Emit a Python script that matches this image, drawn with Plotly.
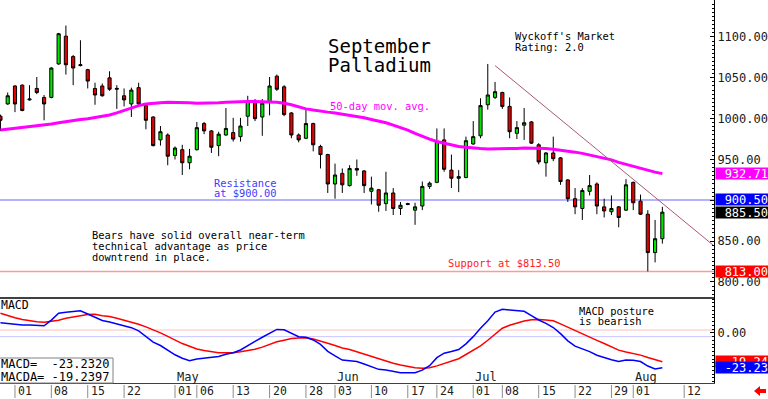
import plotly.graph_objects as go

# ---------------- data ----------------
opens = [1003, 1018, 1040, 1041, 1023, 1037, 1026, 1026, 1067, 1101,
         1076, 1065, 1060, 1037, 1040, 1050, 1036, 1028, 1018, 1038,
         1016, 1002, 974, 980, 955, 962, 946, 962, 994, 985,
         967, 980, 983, 978, 1003, 1021, 1002, 1021, 1052, 1039,
         1007, 980, 976, 994, 966, 956, 920, 933, 918, 939,
         936, 911, 913, 896, 909, 890, 896, 888, 893, 917,
         922, 974, 937, 927, 928, 969, 979, 1017, 1026, 1032,
         1015, 982, 992, 996, 968, 946, 958, 952, 925, 902,
         890, 911, 920, 892, 886, 892, 888, 922, 899, 883,
         836, 853]
highs = [1005, 1032, 1041, 1042, 1041, 1051, 1029, 1063, 1105, 1114,
         1078, 1096, 1061, 1044, 1043, 1058, 1041, 1037, 1038, 1044,
         1017, 1003, 991, 982, 966, 968, 963, 996, 996, 986,
         984, 1013, 1001, 1001, 1028, 1024, 1024, 1051, 1054, 1041,
         1008, 982, 1013, 995, 968, 957, 945, 939, 943, 950,
         937, 929, 914, 935, 915, 898, 897, 897, 923, 923,
         988, 988, 956, 937, 978, 997, 1025, 1067, 1045, 1033,
         1026, 997, 1013, 997, 970, 959, 978, 953, 926, 915,
         915, 931, 922, 902, 906, 893, 926, 923, 907, 888,
         876, 892]
lows = [985, 1017, 1008, 1009, 1022, 1030, 998, 1025, 1066, 1054,
        1041, 1064, 1037, 1017, 1027, 1034, 1012, 1015, 1002, 1015,
        987, 966, 967, 943, 950, 931, 938, 961, 981, 958,
        954, 979, 972, 972, 991, 997, 979, 1004, 1034, 1003,
        976, 971, 975, 960, 939, 909, 902, 909, 917, 930,
        909, 895, 886, 887, 882, 882, 894, 870, 888, 914,
        921, 935, 915, 910, 927, 968, 976, 1011, 1024, 1012,
        976, 975, 974, 969, 944, 929, 948, 919, 898, 883,
        876, 906, 883, 879, 882, 867, 887, 888, 882, 813,
        824, 847]
closes = [998, 1028, 1018, 1010, 1024, 1032, 1018, 1062, 1104, 1066,
          1062, 1066, 1046, 1029, 1028, 1036, 1037, 1023, 1035, 1018,
          998, 967, 984, 954, 964, 946, 954, 989, 985, 965,
          981, 988, 975, 991, 1021, 1000, 1019, 1040, 1036, 1005,
          980, 974, 994, 968, 956, 920, 931, 919, 939, 937,
          918, 915, 894, 909, 890, 894, 895, 892, 917, 921,
          972, 938, 927, 929, 973, 978, 1016, 1029, 1033, 1015,
          984, 989, 995, 970, 947, 958, 951, 923, 902, 892,
          912, 918, 893, 887, 890, 879, 919, 897, 883, 836,
          853, 885.5]
ma50 = [986, 987, 988, 989, 990, 991, 992, 993.5, 995, 996.5,
        998, 999, 1000, 1001.5, 1003, 1004.5, 1007, 1010, 1013, 1016,
        1018, 1019, 1019.5, 1020, 1020, 1020, 1019.5, 1019, 1019, 1019,
        1019.5, 1020, 1020.5, 1021, 1021, 1021, 1021, 1020.5, 1020, 1019,
        1017, 1014.5, 1012, 1010.5, 1009, 1008, 1007, 1005.5, 1004.5, 1003,
        1001, 999, 997, 995, 992, 989, 986, 982, 978, 975,
        972, 970, 968, 966, 965, 964, 963.5, 963, 963, 963,
        963, 963.5, 964, 964, 964, 963.5, 962.5, 961.5, 960.5, 959,
        957.5, 955.5, 953.5, 951.5, 949.5, 946.5, 944, 941.5, 939.5, 937,
        934.5, 932.71]
macd = [6.8, 6.3, 5.7, 5.3, 5.3, 4.9, 4.7, 8.5, 13.1, 13.7,
        14.3, 14.7, 12.6, 10.3, 8.3, 7.3, 6.1, 4.8, 3.5, 1.4,
        -2.7, -6.2, -8.4, -11.3, -14.6, -16.9, -18.5, -17.4, -16.8, -16.6,
        -15.7, -14.3, -13.2, -11.4, -8.2, -5.6, -2.9, -0.3, 2.3, 2.1,
        -0.3, -2.5, -2.9, -4.7, -7.7, -12.3, -15.3, -18.1, -18.5, -19.1,
        -20.7, -22.7, -24.3, -24.7, -25.6, -26.5, -26.5, -26.5, -24.8, -21.9,
        -16.5, -13.5, -12.4, -11.1, -7.3, -2.5, 3.1, 8.1, 13.9, 15.7,
        15.3, 15.0, 14.4, 11.5, 8.6, 6.4, 3.6, -0.5, -5.3, -8.8,
        -10.6, -12.5, -14.9, -16.6, -17.9, -19.1, -18.1, -18.3, -19.1, -22.1,
        -24.1, -23.232]
macda = [13.1, 11.5, 10.1, 8.9, 8.0, 7.4, 7.1, 7.8, 8.5, 9.8,
         10.8, 11.5, 12.2, 12.4, 11.5, 10.9, 9.7, 8.5, 7.3, 5.8,
         4.0, 2.1, 0.0, -2.3, -4.7, -7.1, -8.9, -10.7, -11.8, -12.6,
         -13.2, -13.2, -13.2, -12.6, -11.9, -10.9, -9.5, -7.6, -5.9, -4.9,
         -3.8, -3.4, -3.2, -4.1, -5.3, -6.9, -8.4, -10.1, -11.1, -12.6,
         -14.1, -15.7, -17.4, -19.0, -20.2, -21.4, -22.4, -23.3, -23.6, -23.2,
         -22.0, -20.5, -18.9, -17.2, -14.4, -11.7, -8.6, -4.9, -0.7, 3.1,
         5.1, 6.7, 7.9, 8.8, 9.0, 8.6, 8.1, 6.0, 3.8, 1.4,
         -1.1, -3.1, -5.0, -7.1, -9.5, -11.5, -12.7, -13.7, -14.8, -16.4,
         -17.9, -19.2397]

tick_pos = [2, 7, 12, 17, 24, 27, 32, 37, 42, 46, 51, 56, 60, 65, 69, 74, 79, 84, 87, 94]
tick_lab = ["01", "08", "15", "22", "01", "06", "13", "20", "28", "03",
            "10", "17", "24", "01", "08", "15", "22", "29", "01", "12"]
month_pos = [24, 46, 65, 87]
month_lab = ["May", "Jun", "Jul", "Aug"]

price_ticks = [800, 850, 900, 950, 1000, 1050, 1100]
hidden_price_ticks = [900]  # covered by the 900.50 value box in the original
resistance = 900.50
support = 813.00
trend_x = [68, 98]
trend_y = [1065, 845]

x = list(range(len(opens)))

W, H = 768, 399
MONO = "DejaVu Sans Mono"


def px(xp):
    return xp / W


def py(yp):
    return 1 - yp / H


fig = go.Figure()

fig.add_trace(go.Candlestick(
    x=x, open=opens, high=highs, low=lows, close=closes,
    increasing=dict(fillcolor="#00e600", line=dict(color="#000000", width=1)),
    decreasing=dict(fillcolor="#e60000", line=dict(color="#000000", width=1)),
    whiskerwidth=0, xaxis="x", yaxis="y", showlegend=False))

fig.add_trace(go.Scatter(x=x, y=ma50, mode="lines",
                         line=dict(color="#ff00ff", width=3),
                         xaxis="x", yaxis="y", showlegend=False))
fig.add_trace(go.Scatter(x=trend_x, y=trend_y, mode="lines",
                         line=dict(color="#a8587a", width=1),
                         xaxis="x", yaxis="y", showlegend=False))

fig.add_trace(go.Scatter(x=x, y=macda, mode="lines",
                         line=dict(color="#ff0000", width=1.5),
                         xaxis="x2", yaxis="y2", showlegend=False))
fig.add_trace(go.Scatter(x=x, y=macd, mode="lines",
                         line=dict(color="#0000ff", width=1.5),
                         xaxis="x2", yaxis="y2", showlegend=False))

xr = [-0.06, 98.1]
xdom = [0, 714 / W]

fig.update_layout(
    width=W, height=H,
    margin=dict(l=0, r=0, t=0, b=0),
    paper_bgcolor="white", plot_bgcolor="white",
    boxgap=0.38,
    hovermode=False,
    font=dict(family=MONO, size=12, color="#202020"),
    xaxis=dict(domain=xdom, range=xr, showticklabels=False, showgrid=False,
               zeroline=False, rangeslider=dict(visible=False), fixedrange=True),
    xaxis2=dict(domain=xdom, range=xr, anchor="y2", showticklabels=False,
                showgrid=False, zeroline=False, showline=True,
                linecolor="#404040", linewidth=1),
    yaxis=dict(domain=[py(298), 1], range=[780.4, 1145.3], side="right",
               anchor="x", tickvals=price_ticks,
               ticktext=["" if v in hidden_price_ticks else f"{v:.2f}" for v in price_ticks],
               showgrid=False, zeroline=False, showline=True,
               linecolor="#000000", linewidth=1, ticks="inside", ticklen=4,
               tickcolor="#000000",
               minor=dict(ticks="inside", ticklen=2, dtick=5, tickcolor="#000000"),
               tickfont=dict(family=MONO, size=12, color="#202020")),
    yaxis2=dict(domain=[py(383), py(298)], range=[-33.4, 23.27], side="right",
                anchor="x2", tickvals=[0], ticktext=["0.00"],
                showgrid=False, zeroline=False, showline=True,
                linecolor="#000000", linewidth=1, ticks="inside", ticklen=4,
                tickcolor="#000000",
                minor=dict(ticks="inside", ticklen=2, dtick=2.5, tickcolor="#000000"),
                tickfont=dict(family=MONO, size=12, color="#202020")),
)

shapes = []
# resistance & support
shapes.append(dict(type="line", xref="x", yref="y", x0=xr[0], x1=xr[1],
                   y0=resistance, y1=resistance,
                   line=dict(color="#9a9aff", width=1.5), layer="below"))
shapes.append(dict(type="line", xref="x", yref="y", x0=xr[0], x1=xr[1],
                   y0=support, y1=support,
                   line=dict(color="#ff9a9a", width=1.5), layer="below"))
# MACD reference lines
shapes.append(dict(type="line", xref="x2", yref="y2", x0=xr[0], x1=xr[1],
                   y0=1.9, y1=1.9, line=dict(color="#ffc0c0", width=1), layer="below"))
shapes.append(dict(type="line", xref="x2", yref="y2", x0=xr[0], x1=xr[1],
                   y0=-2.5, y1=-2.5, line=dict(color="#c8c8ff", width=1), layer="below"))
# panel separator
shapes.append(dict(type="line", xref="paper", yref="paper", x0=0, x1=714 / W,
                   y0=py(298), y1=py(298), line=dict(color="#000000", width=1.5)))
# bottom date ticks
for p in tick_pos:
    shapes.append(dict(type="line", xref="x", yref="paper", x0=p, x1=p,
                       y0=py(385), y1=py(398), line=dict(color="#8c8c8c", width=1)))
# MACD legend box
shapes.append(dict(type="rect", xref="paper", yref="paper", x0=px(-1), x1=px(113),
                   y0=py(383), y1=py(358), line=dict(color="#808080", width=1),
                   fillcolor="white"))
# little red arrow bottom right
ax0, ay0 = 754, 391
arrow = (f"M {px(ax0)},{py(ay0)} L {px(ax0+6)},{py(ay0-5)} L {px(ax0+6)},{py(ay0-2)} "
         f"L {px(ax0+12)},{py(ay0-2)} L {px(ax0+12)},{py(ay0+2)} L {px(ax0+6)},{py(ay0+2)} "
         f"L {px(ax0+6)},{py(ay0+5)} Z")
shapes.append(dict(type="path", xref="paper", yref="paper", path=arrow,
                   fillcolor="#ff0000", line=dict(color="#ff0000", width=0)))
fig.update_layout(shapes=shapes)

ann = []


def text(xp, yp, s, color="#000000", size=10.4, xanchor="left"):
    ann.append(dict(xref="paper", yref="paper", x=px(xp), y=py(yp), text=s,
                    showarrow=False, xanchor=xanchor, yanchor="middle", align="left",
                    font=dict(family=MONO, size=size, color=color)))


text(326, 46, "September", size=19)
text(326, 65, "Palladium", size=19)
text(513, 36, "Wyckoff's Market")
text(513, 47, "Rating: 2.0")
text(328, 106, "50-day mov. avg.", color="#ff00ff")
text(212, 183, "Resistance", color="#3c3cff")
text(212, 193, "at $900.00", color="#3c3cff")
text(90, 235, "Bears have solid overall near-term")
text(90, 246, "technical advantage as price")
text(90, 256.5, "downtrend in place.")
text(446, 263, "Support at $813.50", color="#ff2020")
text(577, 311, "MACD posture")
text(577, 321, "is bearish")
text(-1, 305, "MACD", size=11.5)
text(-1, 364, "MACD=  " + f"{macd[-1]:.4f}", size=12)
text(-1, 377, "MACDA= " + f"{macda[-1]:.4f}", size=12)

for p, lab in zip(tick_pos, tick_lab):
    ann.append(dict(xref="x", yref="paper", x=p, y=py(391), text=lab,
                    showarrow=False, xanchor="left", yanchor="middle", xshift=1,
                    font=dict(family=MONO, size=11.5, color="#202020")))
for p, lab in zip(month_pos, month_lab):
    ann.append(dict(xref="x", yref="paper", x=p, y=py(377), text=lab,
                    showarrow=False, xanchor="left", yanchor="middle", xshift=0,
                    font=dict(family=MONO, size=12, color="#202020")))


# value boxes on the right axis
def vbox(yref, val, s, bg):
    ann.append(dict(xref="paper", yref=yref, x=715 / W, y=val, text=s,
                    showarrow=False, xanchor="left", yanchor="middle",
                    width=52, height=11, align="right", bgcolor=bg, borderpad=0,
                    font=dict(family=MONO, size=12, color="#ffffff")))


vbox("y", ma50[-1], f"{ma50[-1]:.2f}", "#ff00ff")
vbox("y", resistance, f"{resistance:.2f}", "#0000ff")
vbox("y", closes[-1], f"{closes[-1]:.2f}", "#000000")
vbox("y", support, f"{support:.2f}", "#ff0000")
vbox("y2", macda[-1], f"{macda[-1]:.2f}", "#ff0000")
vbox("y2", macd[-1], f"{macd[-1]:.2f}", "#0000ff")

fig.update_layout(annotations=ann)

fig.write_html("out.html",
               config={"displayModeBar": False, "staticPlot": True},
               post_script="document.body.style.margin='0';"
                           "document.body.style.overflow='hidden';")
